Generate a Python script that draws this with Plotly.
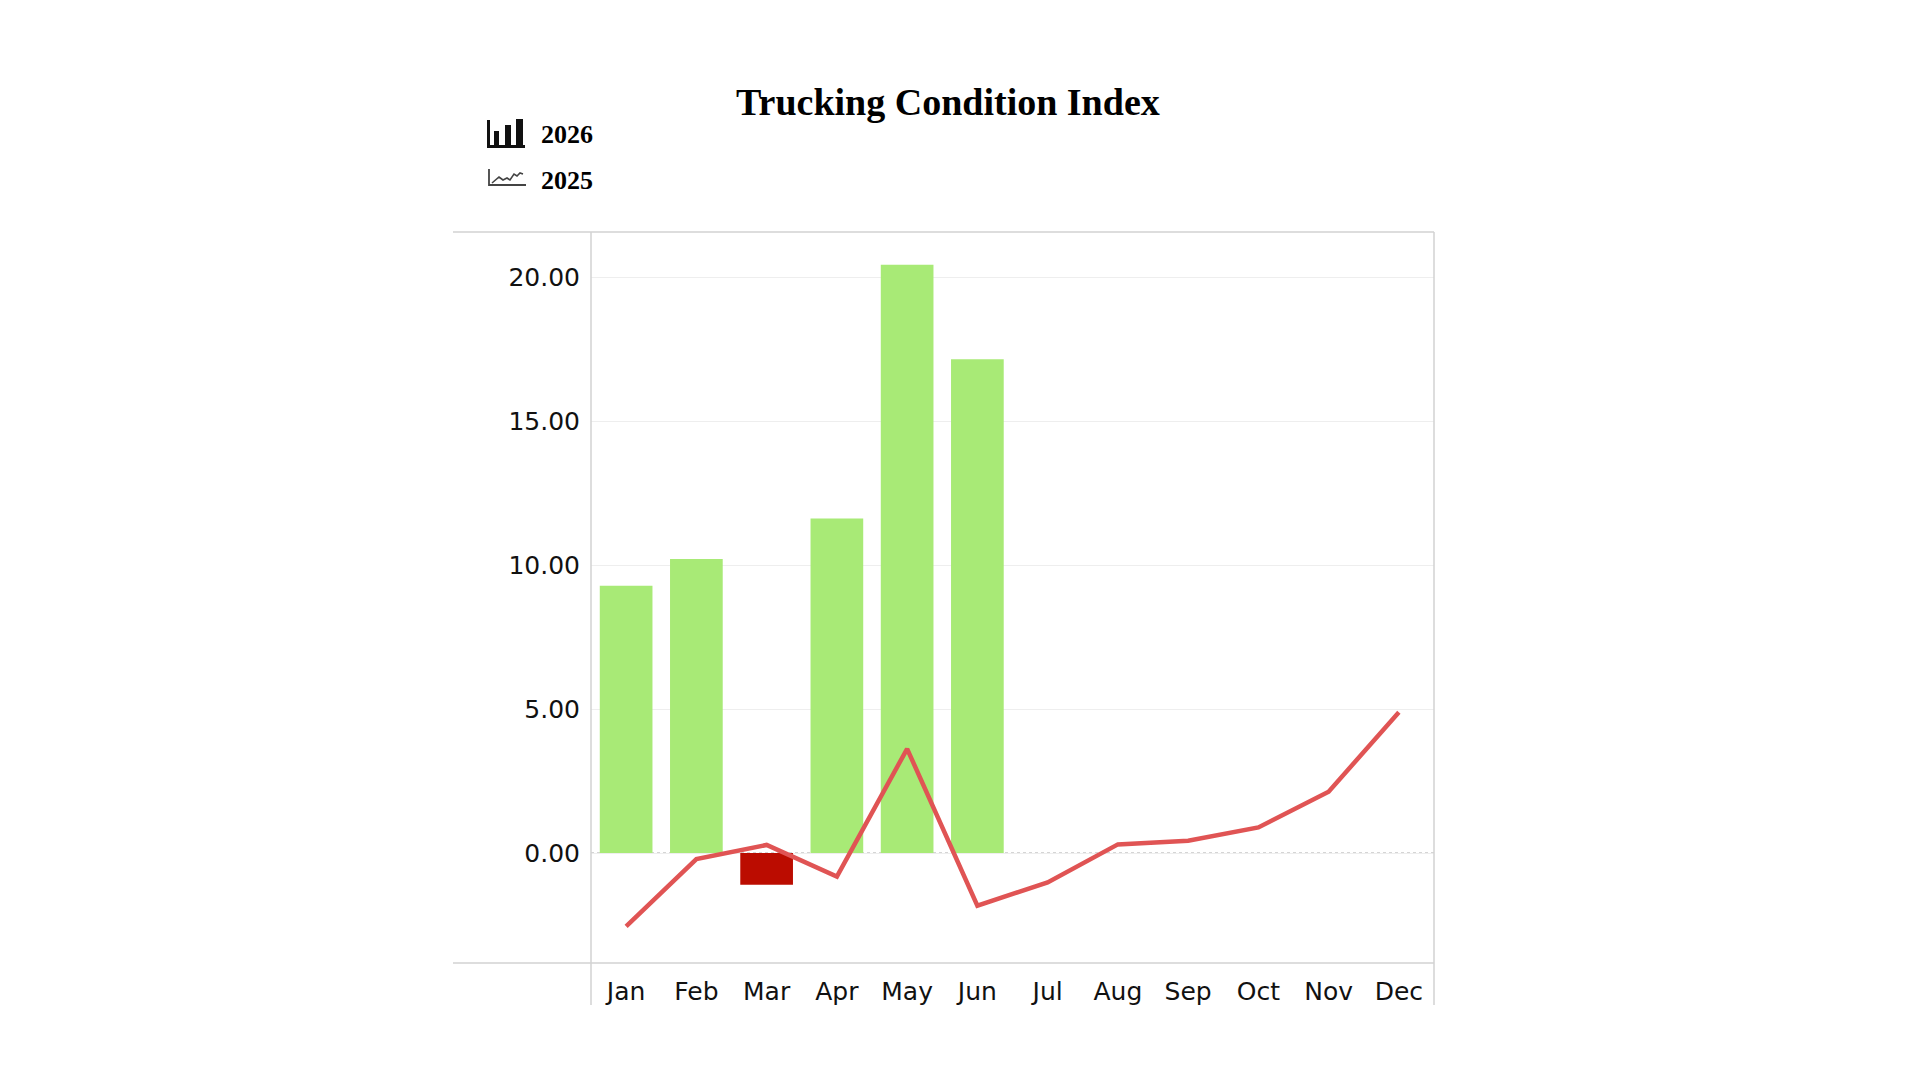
import plotly.graph_objects as go

months = ["Jan", "Feb", "Mar", "Apr", "May", "Jun", "Jul", "Aug", "Sep", "Oct", "Nov", "Dec"]
tci_2026 = [9.28, 10.21, -1.10, 11.62, 20.43, 17.15]
tci_2025 = [-2.55, -0.21, 0.28, -0.82, 3.62, -1.83, -1.02, 0.30, 0.43, 0.89, 2.13, 4.89]
y_ticks = [0, 5, 10, 15, 20]

# page geometry (px) -> plot area; browser body margin is 8px
OFF = 8
W, H = 1920 - 2 * OFF, 1080 - 2 * OFF
L, R, T, B = 591, 1434, 232, 963


def px(x):
    return (x - L) / (R - L)


def py(y):
    return (B - y) / (B - T)


bar_colors = ["#a8ea76" if v >= 0 else "#bb0c00" for v in tci_2026]

fig = go.Figure()

fig.add_trace(go.Bar(
    x=months[:len(tci_2026)],
    y=tci_2026,
    name="2026",
    marker=dict(color=bar_colors, line=dict(width=0)),
    showlegend=False
))

fig.add_trace(go.Scatter(
    x=months,
    y=tci_2025,
    mode="lines",
    name="2025",
    line=dict(color="#e05454", width=4.5),
    showlegend=False
))

frame = "#d2d2d2"
shapes = [
    # frame lines
    dict(type="line", xref="paper", yref="paper", x0=px(453), x1=1, y0=1, y1=1,
         line=dict(color=frame, width=1.5)),
    dict(type="line", xref="paper", yref="paper", x0=px(453), x1=1, y0=0, y1=0,
         line=dict(color=frame, width=1.5)),
    dict(type="line", xref="paper", yref="paper", x0=0, x1=0, y0=py(1005), y1=1,
         line=dict(color=frame, width=1.5)),
    dict(type="line", xref="paper", yref="paper", x0=1, x1=1, y0=py(1005), y1=1,
         line=dict(color=frame, width=1.5)),
    # dotted zero line
    dict(type="line", xref="paper", yref="y", x0=0, x1=1, y0=0, y1=0,
         line=dict(color="#c8c8c8", width=1.5, dash="dot"), layer="below"),
]

# legend icons (bar chart / line chart glyphs)
for x0, y0, x1, y1 in [(487, 120, 490, 148), (487, 145, 525, 148),
                       (494, 131, 499, 145), (505, 125, 511, 145), (516, 119, 523, 145)]:
    shapes.append(dict(type="rect", xref="paper", yref="paper",
                       x0=px(x0), x1=px(x1), y0=py(y1), y1=py(y0),
                       fillcolor="#111111", line=dict(width=0)))


def path(pts):
    return "M " + " L ".join(f"{px(a):.5f},{py(b):.5f}" for a, b in pts)


shapes.append(dict(type="path", xref="paper", yref="paper",
                   path=path([(489, 169), (489, 185), (526, 185)]),
                   line=dict(color="#444444", width=1.8)))
shapes.append(dict(type="path", xref="paper", yref="paper",
                   path=path([(492, 183), (499, 177), (503, 180), (507, 178), (510, 180),
                              (514, 174), (517, 176), (520, 173), (523, 174)]),
                   line=dict(color="#444444", width=1.6)))

serif = "Liberation Serif, Times New Roman, serif"
annotations = [
    dict(text="<b>Trucking Condition Index</b>", xref="paper", yref="paper",
         x=px(948), y=py(102), xanchor="center", yanchor="middle", showarrow=False,
         font=dict(family=serif, size=38, color="#000000")),
    dict(text="<b>2026</b>", xref="paper", yref="paper",
         x=px(539), y=py(135), xanchor="left", yanchor="middle", showarrow=False,
         font=dict(family=serif, size=26, color="#000000")),
    dict(text="<b>2025</b>", xref="paper", yref="paper",
         x=px(539), y=py(180), xanchor="left", yanchor="middle", showarrow=False,
         font=dict(family=serif, size=26, color="#000000")),
]

fig.update_layout(
    width=W,
    height=H,
    margin=dict(l=L - OFF, r=W - (R - OFF), t=T - OFF, b=H - (B - OFF), autoexpand=False),
    paper_bgcolor="white",
    plot_bgcolor="white",
    bargap=0.25,
    shapes=shapes,
    annotations=annotations,
    xaxis=dict(
        type="category",
        categoryorder="array",
        categoryarray=months,
        range=[-0.5, 11.5],
        showgrid=False,
        showline=False,
        zeroline=False,
        ticks="",
        ticklabelstandoff=11,
        tickfont=dict(family="DejaVu Sans, Verdana, sans-serif", size=25, color="#111111")
    ),
    yaxis=dict(
        range=[-3.82, 21.57],
        tickvals=y_ticks,
        tickformat=".2f",
        showgrid=True,
        gridcolor="#eeeeee",
        gridwidth=1,
        zeroline=False,
        showline=False,
        ticks="",
        ticklabelstandoff=10,
        tickfont=dict(family="DejaVu Sans, Verdana, sans-serif", size=25, color="#111111")
    ),
)

fig.write_html("out.html")
